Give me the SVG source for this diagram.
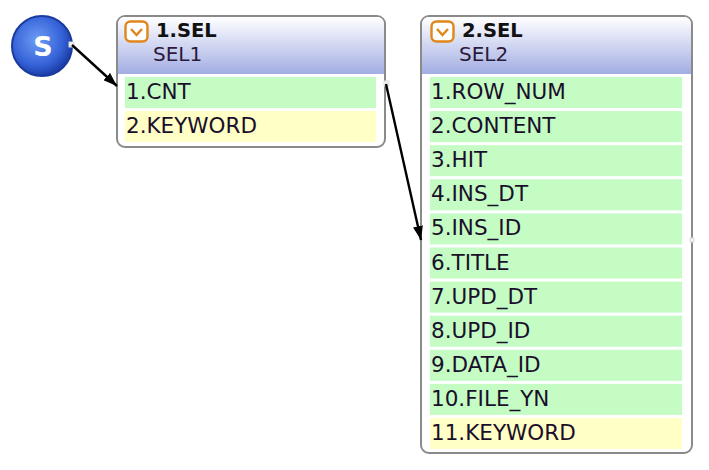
<svg xmlns="http://www.w3.org/2000/svg" width="709" height="470" viewBox="0 0 709 470">
<style>
.box{fill:#fff;stroke:#8a8a8a;stroke-width:2}
.hdr{fill:url(#hg)}
.icon{fill:#fff;stroke:#e0861a;stroke-width:2.4}
.chev{fill:none;stroke:#e0861a;stroke-width:2.4}
.ttl{font-family:"DejaVu Sans",Verdana,sans-serif;font-weight:bold;font-size:19.5px;fill:#111}
.sub{font-family:"DejaVu Sans",Verdana,sans-serif;font-size:20px;fill:#2a1a3a}
.row{font-family:"DejaVu Sans",Verdana,sans-serif;font-size:21.5px;fill:#1a0f2a}
.g{fill:#c4fcc4}
.y{fill:#ffffc6}
.con{stroke:#000;stroke-width:2.4;fill:none;marker-end:url(#ah)}
.pt{fill:#f0f0f0;stroke:#ddd;stroke-width:1}
</style>
<defs>
<linearGradient id="hg" x1="0" y1="0" x2="0" y2="1">
<stop offset="0" stop-color="#ffffff"/>
<stop offset="1" stop-color="#a2ade3"/>
</linearGradient>
<radialGradient id="sg" cx="0.42" cy="0.4" r="0.6">
<stop offset="0" stop-color="#6e9cf5"/>
<stop offset="0.7" stop-color="#3563d8"/>
<stop offset="1" stop-color="#1c3fa8"/>
</radialGradient>
<marker id="ah" viewBox="0 0 14 10" refX="14" refY="5" markerWidth="14" markerHeight="10" orient="auto" markerUnits="userSpaceOnUse">
<path d="M0,0 L14,5 L0,10 z" fill="#000"/>
</marker>
</defs>

<g id="start">
<circle cx="42" cy="46" r="30" fill="url(#sg)" stroke="#1a3a9e" stroke-width="2"/>
<text x="43" y="56" text-anchor="middle" font-family="DejaVu Sans,Verdana,sans-serif" font-weight="bold" font-size="27" fill="#fff">S</text>
</g>

<g id="sel1">
<rect class="box" x="117" y="16" width="268" height="131" rx="8"/>
<path class="hdr" d="M125,17 H377 Q384,17 384,25 V74 H118 V25 Q118,17 125,17 Z"/>
<rect class="icon" x="125.5" y="21.5" width="22" height="20" rx="5"/>
<path class="chev" d="M131,29 L136.5,35 L142,29"/>
<text class="ttl" x="156" y="37">1.SEL</text>
<text class="sub" x="153" y="61">SEL1</text>
<rect class="g" x="125" y="77" width="251" height="31"/>
<text class="row" x="126" y="99">1.CNT</text>
<rect class="y" x="125" y="111" width="251" height="31"/>
<text class="row" x="126" y="133">2.KEYWORD</text>
</g>

<g id="sel2">
<rect class="box" x="421" y="16" width="271" height="437" rx="8"/>
<path class="hdr" d="M429,17 H684 Q691,17 691,25 V74 H422 V25 Q422,17 429,17 Z"/>
<rect class="icon" x="431.5" y="21.5" width="22" height="20" rx="5"/>
<path class="chev" d="M437,29 L442.5,35 L448,29"/>
<text class="ttl" x="462" y="37">2.SEL</text>
<text class="sub" x="459" y="61">SEL2</text>
<rect class="g" x="430" y="77" width="252" height="31"/>
<text class="row" x="431" y="99">1.ROW_NUM</text>
<rect class="g" x="430" y="111.1" width="252" height="31"/>
<text class="row" x="431" y="133.1">2.CONTENT</text>
<rect class="g" x="430" y="145.2" width="252" height="31"/>
<text class="row" x="431" y="167.2">3.HIT</text>
<rect class="g" x="430" y="179.3" width="252" height="31"/>
<text class="row" x="431" y="201.3">4.INS_DT</text>
<rect class="g" x="430" y="213.4" width="252" height="31"/>
<text class="row" x="431" y="235.4">5.INS_ID</text>
<rect class="g" x="430" y="247.5" width="252" height="31"/>
<text class="row" x="431" y="269.5">6.TITLE</text>
<rect class="g" x="430" y="281.6" width="252" height="31"/>
<text class="row" x="431" y="303.6">7.UPD_DT</text>
<rect class="g" x="430" y="315.7" width="252" height="31"/>
<text class="row" x="431" y="337.7">8.UPD_ID</text>
<rect class="g" x="430" y="349.8" width="252" height="31"/>
<text class="row" x="431" y="371.8">9.DATA_ID</text>
<rect class="g" x="430" y="383.9" width="252" height="31"/>
<text class="row" x="431" y="405.9">10.FILE_YN</text>
<rect class="y" x="430" y="418" width="252" height="31"/>
<text class="row" x="431" y="440">11.KEYWORD</text>
</g>

<g id="connectors">
<rect class="pt" x="69" y="42" width="5" height="5"/>
<path class="con" d="M72,45 L117,86"/>
<rect class="pt" x="384" y="81" width="5" height="5"/>
<path class="con" d="M386,84 L421,240"/>
<rect class="pt" x="690" y="238" width="4" height="4"/>
</g>
</svg>
